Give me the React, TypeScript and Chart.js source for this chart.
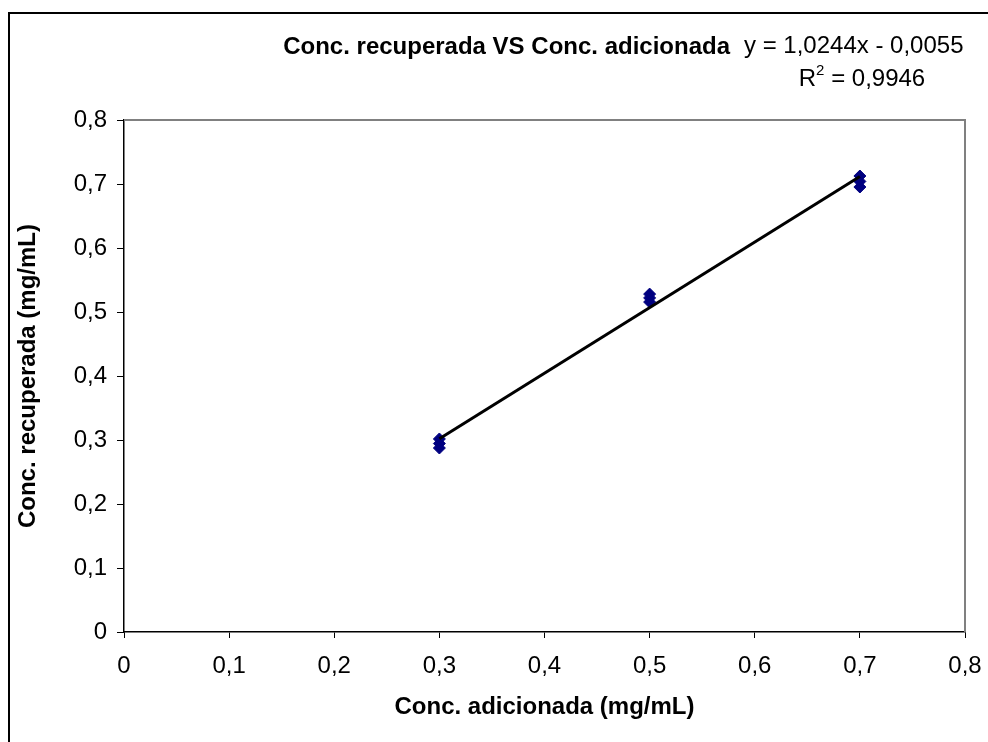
import React, { useEffect, useRef } from "react";
import { Chart, registerables } from "chart.js";

Chart.register(...registerables);

const chartTitle = "Conc. recuperada VS Conc. adicionada";
const xAxisTitle = "Conc. adicionada (mg/mL)";
const yAxisTitle = "Conc. recuperada (mg/mL)";

const addedConc = [0.3, 0.3, 0.3, 0.5, 0.5, 0.5, 0.7, 0.7, 0.7];
const recoveredConc = [0.3016, 0.2945, 0.2875, 0.528, 0.522, 0.5156, 0.7125, 0.704, 0.6953];

const trendSlope = 1.0244;
const trendIntercept = -0.0055;
const equationLabel = "y = 1,0244x - 0,0055";
const r2Label = "0,9946";

const axisMin = 0;
const axisMax = 0.8;
const axisStep = 0.1;

const FONT = "'Liberation Sans', Arial, sans-serif";

const fmt = (v: number) => {
  const r = Math.round(v * 10) / 10;
  return r === 0 ? "0" : r.toFixed(1).replace(".", ",");
};

const decorPlugin = {
  id: "decor",
  afterDraw(chart: any) {
    const { ctx, chartArea } = chart;
    const W = chart.width;
    const H = chart.height;
    ctx.save();
    // outer frame (left + top)
    ctx.fillStyle = "#000";
    ctx.fillRect(8, 12, W - 8, 2);
    ctx.fillRect(8, 12, 2, H - 12);
    // plot area top/right border
    ctx.strokeStyle = "#808080";
    ctx.lineWidth = 2;
    ctx.beginPath();
    ctx.moveTo(chartArea.left, chartArea.top);
    ctx.lineTo(chartArea.right, chartArea.top);
    ctx.lineTo(chartArea.right, chartArea.bottom);
    ctx.stroke();
    // title
    ctx.fillStyle = "#000";
    ctx.font = `bold 24px ${FONT}`;
    ctx.textAlign = "right";
    ctx.textBaseline = "middle";
    ctx.fillText(chartTitle, 730, 47);
    // equation
    ctx.font = `24px ${FONT}`;
    ctx.textAlign = "left";
    ctx.fillText(equationLabel, 744, 46);
    // R^2
    const rPart = "R";
    const rest = " = " + r2Label;
    ctx.font = `24px ${FONT}`;
    const wR = ctx.measureText(rPart).width;
    const wRest = ctx.measureText(rest).width;
    ctx.font = `15px ${FONT}`;
    const w2 = ctx.measureText("2").width;
    const total = wR + w2 + wRest;
    let x = 862 - total / 2;
    const y = 79;
    ctx.font = `24px ${FONT}`;
    ctx.fillText(rPart, x, y);
    x += wR;
    ctx.font = `15px ${FONT}`;
    ctx.fillText("2", x, y - 8);
    x += w2;
    ctx.font = `24px ${FONT}`;
    ctx.fillText(rest, x, y);
    ctx.restore();
  },
};

export default function App() {
  const ref = useRef<HTMLCanvasElement | null>(null);
  useEffect(() => {
    if (!ref.current) return;
    const xs = [Math.min(...addedConc), Math.max(...addedConc)];
    const trend = xs.map((x) => ({ x, y: trendSlope * x + trendIntercept }));
    const points = addedConc.map((x, i) => ({ x, y: recoveredConc[i] }));
    const axisCommon = (titleText: string) => ({
      type: "linear" as const,
      min: axisMin,
      max: axisMax,
      ticks: {
        stepSize: axisStep,
        color: "#000",
        font: { family: FONT, size: 24 },
        callback: (v: any) => fmt(Number(v)),
      },
      grid: {
        drawOnChartArea: false,
        drawTicks: true,
        tickLength: 7,
        color: "#000",
        lineWidth: 1,
      },
      border: { display: true, color: "#000", width: 1.5 },
      title: {
        display: true,
        text: titleText,
        color: "#000",
        font: { family: FONT, size: 24, weight: "bold" as const },
      },
    });
    const xAxis: any = axisCommon(xAxisTitle);
    xAxis.ticks.padding = 14;
    xAxis.grid.tickLength = 6;
    xAxis.title.padding = { top: 0, bottom: 0 };
    xAxis.afterFit = (s: any) => {
      s.height = 90;
      s.paddingLeft = 0;
      s.paddingRight = 0;
    };
    const yAxis: any = axisCommon(yAxisTitle);
    yAxis.ticks.padding = 10;
    yAxis.title.padding = { top: 14, bottom: 0 };
    yAxis.afterFit = (s: any) => {
      s.width = 124;
      s.paddingTop = 0;
      s.paddingBottom = 0;
    };

    const chart = new Chart(ref.current, {
      type: "scatter",
      data: {
        datasets: [
          {
            label: "trend",
            data: trend,
            type: "line",
            borderColor: "#000",
            borderWidth: 3,
            pointRadius: 0,
            showLine: true,
            order: 0,
          } as any,
          {
            label: "data",
            data: points,
            pointStyle: "rectRot",
            pointRadius: 6,
            backgroundColor: "#000080",
            borderColor: "#000080",
            borderWidth: 1,
            order: 1,
          },
        ],
      },
      options: {
        responsive: false,
        animation: false,
        devicePixelRatio: 1,
        layout: { padding: { left: 0, top: 120, right: 23, bottom: 20 } },
        plugins: {
          legend: { display: false },
          tooltip: { enabled: false },
          title: { display: false },
        },
        scales: { x: xAxis, y: yAxis },
      },
      plugins: [decorPlugin],
    });
    return () => chart.destroy();
  }, []);

  return (
    <div style={{ position: "fixed", left: 0, top: 0, width: 988, height: 742, background: "#fff" }}>
      <canvas ref={ref} width={988} height={742} style={{ display: "block" }} />
    </div>
  );
}
